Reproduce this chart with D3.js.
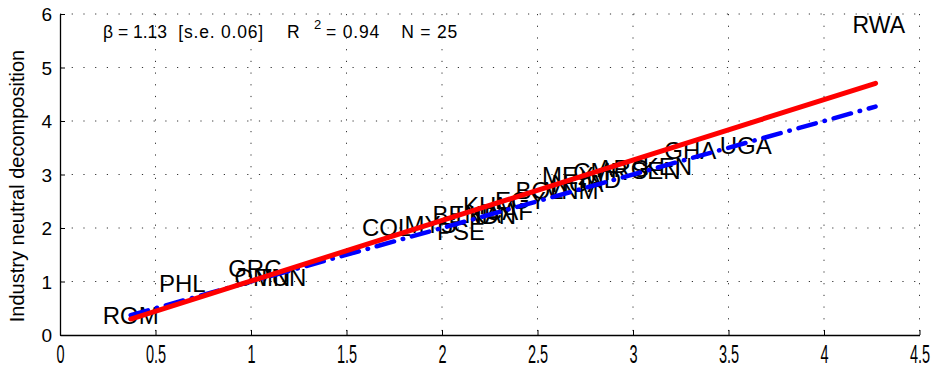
<!DOCTYPE html>
<html>
<head>
<meta charset="utf-8">
<script src="https://cdn.jsdelivr.net/npm/d3@7"></script>
<style>
  html, body { margin: 0; padding: 0; background: #fff; }
  svg { display: block; font-family: "Liberation Sans", Arial, sans-serif; }
  text { white-space: pre; }
</style>
</head>
<body>
<svg id="chart" width="940" height="370"></svg>
<script>
// Country codes and their two measures
const countries = ["ROM", "PHL", "GRC", "OMN", "TUN", "COL", "MYS", "PSE", "BEN", "LKA",
                   "KHM", "CAF", "IDN", "EGY", "BOL", "VNM", "MEX", "NGA", "CMR", "IND",
                   "ARG", "SEN", "KEN", "GHA", "UGA"];
const xValues = [0.37, 0.64, 1.02, 1.06, 1.16, 1.71, 1.94, 2.10, 2.08, 2.19,
                 2.25, 2.35, 2.28, 2.41, 2.51, 2.68, 2.66, 2.71, 2.83, 2.83,
                 2.95, 3.12, 3.18, 3.30, 3.59];
const yValues = [0.36, 0.97, 1.25, 1.08, 1.08, 2.02, 2.06, 1.94, 2.26, 2.26,
                 2.43, 2.32, 2.24, 2.52, 2.71, 2.71, 2.99, 2.84, 3.05, 2.90,
                 3.12, 3.08, 3.16, 3.46, 3.55];

// Fitted regression and the 45-degree reference line, over the fitted x range
const fitRange = [0.37, 4.27];
const fitSlope = 1.13;
const fitIntercept = -0.12;
const statsText = { beta: "1.13", se: "0.06", r2: "0.94", n: "25" };
const panelTitle = "RWA";

const xTicks = [0, 0.5, 1, 1.5, 2, 2.5, 3, 3.5, 4, 4.5];
const xTickLabels = ["0", "0.5", "1", "1.5", "2", "2.5", "3", "3.5", "4", "4.5"];
const yTicks = [0, 1, 2, 3, 4, 5, 6];
const yTickLabels = ["0", "1", "2", "3", "4", "5", "6"];

const svg = d3.select("#chart");
const plotLeft = 60, plotRight = 919.5, plotTop = 14, plotBottom = 335;

const x = d3.scaleLinear().domain([0, 4.5]).range([plotLeft, plotRight]);
const y = d3.scaleLinear().domain([0, 6]).range([plotBottom, plotTop]);

// Dotted grid
const grid = svg.append("g").attr("stroke", "#333").attr("stroke-width", 1)
  .attr("stroke-dasharray", "1.2,10.5");
grid.selectAll(".gx").data(xTicks.slice(1)).join("line")
  .attr("x1", d => x(d)).attr("x2", d => x(d))
  .attr("y1", y(6)).attr("y2", y(0));
grid.selectAll(".gy").data(yTicks.slice(1)).join("line")
  .attr("x1", x(0)).attr("x2", x(4.5))
  .attr("y1", d => y(d)).attr("y2", d => y(d));

// Axes (left and bottom only, ticks pointing inward)
const xAxis = d3.axisBottom(x).tickValues(xTicks).tickSize(-5).tickSizeOuter(0)
  .tickFormat((d, i) => xTickLabels[i]);
const gx = svg.append("g").attr("transform", `translate(0,${plotBottom})`).call(xAxis);
gx.select(".domain").attr("stroke", "#000").attr("stroke-width", 1.3);
gx.selectAll(".tick line").attr("stroke", "#000");
gx.selectAll(".tick text")
  .attr("y", 0).attr("dy", 0)
  .attr("font-size", 25).attr("fill", "#000")
  .attr("font-family", "'Liberation Sans', Arial, sans-serif")
  .attr("transform", "translate(0,28) scale(0.58,1)");

const yAxis = d3.axisLeft(y).tickValues(yTicks).tickSize(-5).tickSizeOuter(0)
  .tickFormat((d, i) => yTickLabels[i]);
const gy = svg.append("g").attr("transform", `translate(${plotLeft},0)`).call(yAxis);
gy.select(".domain").attr("stroke", "#000").attr("stroke-width", 1.3);
gy.selectAll(".tick line").attr("stroke", "#000");
gy.selectAll(".tick text").attr("x", -8).attr("dy", "0.36em")
  .attr("font-size", 19).attr("fill", "#000")
  .attr("font-family", "'Liberation Sans', Arial, sans-serif");

// Y axis title
svg.append("text")
  .attr("transform", `translate(24,186) rotate(-90)`)
  .attr("text-anchor", "middle")
  .attr("font-size", 20)
  .text("Industry neutral decomposition");

// Country labels at each observation
svg.append("g").selectAll("text").data(countries).join("text")
  .attr("x", (d, i) => x(xValues[i]))
  .attr("y", (d, i) => y(yValues[i]))
  .attr("text-anchor", "middle")
  .attr("dy", "0.36em")
  .attr("font-size", 24)
  .attr("fill", "#000")
  .text(d => d);

// 45-degree line (blue dash-dot)
const line = d3.line().x(d => x(d[0])).y(d => y(d[1]));
svg.append("path")
  .attr("d", line(fitRange.map(v => [v, v])))
  .attr("fill", "none")
  .attr("stroke", "#0000ff")
  .attr("stroke-width", 4.5)
  .attr("stroke-linecap", "round")
  .attr("stroke-dasharray", "18,9,0.5,9");

// Regression line (red)
svg.append("path")
  .attr("d", line(fitRange.map(v => [v, fitIntercept + fitSlope * v])))
  .attr("fill", "none")
  .attr("stroke", "#ff0000")
  .attr("stroke-width", 5)
  .attr("stroke-linecap", "round");

// Regression statistics
const stats = svg.append("g").attr("font-size", 17.5).attr("fill", "#000");
stats.append("text").attr("x", 103).attr("y", 38).text(`β = ${statsText.beta}`);
stats.append("text").attr("x", 264).attr("y", 38).attr("text-anchor", "end")
  .attr("letter-spacing", 0.8).text(`[s.e. ${statsText.se}]`);
stats.append("text").attr("x", 287).attr("y", 38).text("R");
stats.append("text").attr("x", 314).attr("y", 29).attr("font-size", 13).text("2");
stats.append("text").attr("x", 326).attr("y", 38).attr("letter-spacing", 0.8)
  .text(`= ${statsText.r2}`);
stats.append("text").attr("x", 458).attr("y", 38).attr("text-anchor", "end")
  .attr("letter-spacing", 0.8).text(`N = ${statsText.n}`);

// Panel title
svg.append("text").attr("x", 905).attr("y", 33).attr("text-anchor", "end")
  .attr("font-size", 23).text(panelTitle);
</script>
</body>
</html>
